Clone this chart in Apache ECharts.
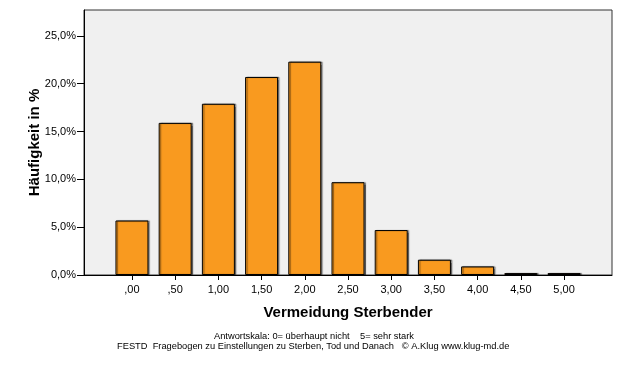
<!DOCTYPE html>
<html>
<head>
<meta charset="utf-8">
<script src="https://cdn.jsdelivr.net/npm/echarts@6/dist/echarts.min.js"></script>
<style>
html,body{margin:0;padding:0;background:#fff;}
#chart{width:626px;height:366px;}
</style>
</head>
<body>
<div id="chart"></div>
<script>
// Data
const categories = [0, 0.5, 1, 1.5, 2, 2.5, 3, 3.5, 4, 4.5, 5];
const tickLabels = [",00", ",50", "1,00", "1,50", "2,00", "2,50", "3,00", "3,50", "4,00", "4,50", "5,00"];
const percentages = [5.7, 15.9, 17.9, 20.7, 22.3, 9.7, 4.7, 1.6, 0.9, 0.2, 0.2];
const yTicks = [0, 5, 10, 15, 20, 25];
const xTitle = "Vermeidung Sterbender";
const yTitle = "Häufigkeit in %";
const footer1 = "Antwortskala: 0= überhaupt nicht    5= sehr stark";
const footer2 = "FESTD  Fragebogen zu Einstellungen zu Sterben, Tod und Danach   © A.Klug www.klug-md.de";

const FONT = "'Liberation Sans', Arial, sans-serif";
const chart = echarts.init(document.getElementById('chart'), null, {renderer: 'canvas'});

chart.setOption({
  animation: false,
  grid: {
    left: 84, right: 14, top: 10, bottom: 91,
    show: true, backgroundColor: '#f0f0f0', borderColor: '#333', borderWidth: 1
  },
  xAxis: {
    type: 'value',
    min: -0.555, max: 5.555,
    name: xTitle,
    nameLocation: 'middle',
    nameGap: 30,
    nameMoveOverlap: false,
    nameTextStyle: {fontFamily: FONT, fontWeight: 'bold', fontSize: 15, color: '#000'},
    axisLine: {show: true, onZero: false, lineStyle: {color: '#000', width: 1}},
    axisTick: {show: true, customValues: categories, length: 5, lineStyle: {color: '#000'}},
    axisLabel: {
      customValues: categories,
      fontFamily: FONT, fontSize: 11, color: '#000', margin: 9,
      formatter: v => tickLabels[Math.round(v * 2)]
    },
    splitLine: {show: false}
  },
  yAxis: {
    type: 'value',
    min: 0, max: 27.7,
    name: yTitle,
    nameLocation: 'middle',
    nameGap: 42,
    nameMoveOverlap: false,
    nameTextStyle: {fontFamily: FONT, fontWeight: 'bold', fontSize: 15, color: '#000'},
    axisLine: {show: true, onZero: false, lineStyle: {color: '#000', width: 1}},
    axisTick: {show: true, customValues: yTicks, length: 7, lineStyle: {color: '#000'}},
    axisLabel: {
      customValues: yTicks,
      fontFamily: FONT, fontSize: 11, color: '#000', margin: 8,
      formatter: v => v.toFixed(1).replace('.', ',') + '%'
    },
    splitLine: {show: false}
  },
  series: [{
    type: 'bar',
    data: categories.map((c, i) => [c, percentages[i]]),
    barWidth: 33,
    itemStyle: {
      color: '#f99a1f',
      borderColor: '#000',
      borderWidth: 1,
      shadowColor: 'rgba(0,0,0,0.45)',
      shadowOffsetX: 1.5,
      shadowOffsetY: 0,
      shadowBlur: 1
    }
  }],
  graphic: [
    {type: 'text', left: 214, top: 332, style: {text: footer1, font: '9.3px ' + FONT, fill: '#000'}},
    {type: 'text', left: 117, top: 342, style: {text: footer2, font: '9.3px ' + FONT, fill: '#000'}}
  ]
});
</script>
</body>
</html>
